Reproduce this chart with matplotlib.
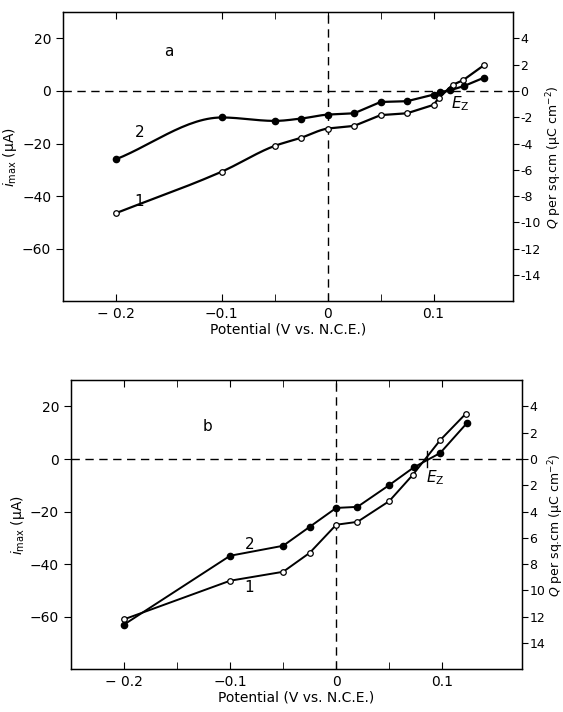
import numpy as np
import matplotlib.pyplot as plt
from matplotlib.ticker import FixedLocator

plt.rcParams['font.family'] = ['DejaVu Sans']
plt.rcParams['mathtext.fontset'] = 'dejavusans'
plt.rcParams['font.size'] = 10

# panel a
xa_1 = [-0.2, -0.1, -0.05, -0.025, 0.0, 0.025, 0.05, 0.075, 0.1, 0.105, 0.118, 0.128, 0.148]
ya_1 = [-46.5, -30.7, -20.9, -17.8, -14.3, -13.3, -9.2, -8.5, -5.3, -2.7, 2.3, 4.1, 9.9]
xa_2 = [-0.2, -0.1, -0.05, -0.025, 0.0, 0.025, 0.05, 0.075, 0.1, 0.106, 0.116, 0.129, 0.148]
ya_2 = [-26.0, -10.1, -11.4, -10.5, -9.0, -8.5, -4.2, -3.9, -1.4, -0.5, 0.3, 1.9, 5.1]

# panel b
xb_1 = [-0.2, -0.1, -0.05, -0.025, 0.0, 0.02, 0.05, 0.072, 0.098, 0.122]
yb_1 = [-61.0, -46.3, -42.9, -35.7, -25.0, -23.9, -16.0, -6.1, 7.2, 17.2]
xb_2 = [-0.2, -0.1, -0.05, -0.025, 0.0, 0.02, 0.05, 0.073, 0.098, 0.123]
yb_2 = [-63.0, -36.8, -33.0, -25.8, -18.6, -18.2, -9.9, -3.2, 2.3, 13.6]
ez_b = 0.086

left_ticks = [20, 0, -20, -40, -60]
q_ticks = [4, 2, 0, -2, -4, -6, -8, -10, -12, -14]
x_major = [-0.2, -0.1, 0.0, 0.1]
x_labels = ['\u2212 0.2', '\u22120.1', '0', '0.1']


def smooth(x, y, n_smooth, steps=30):
    # monotone cubic hermite for the first n_smooth segments, straight after
    x = np.asarray(x, float)
    y = np.asarray(y, float)
    h = np.diff(x)
    d = np.diff(y) / h
    m = np.zeros_like(y)
    m[0], m[-1] = d[0], d[-1]
    for i in range(1, len(x) - 1):
        if d[i - 1] * d[i] > 0:
            w1 = 2 * h[i] + h[i - 1]
            w2 = h[i] + 2 * h[i - 1]
            m[i] = (w1 + w2) / (w1 / d[i - 1] + w2 / d[i])
    px, py = [], []
    for i in range(len(x) - 1):
        if i < n_smooth:
            t = np.linspace(0, 1, steps)
            h00 = 2 * t ** 3 - 3 * t ** 2 + 1
            h10 = t ** 3 - 2 * t ** 2 + t
            h01 = -2 * t ** 3 + 3 * t ** 2
            h11 = t ** 3 - t ** 2
            px.extend(x[i] + t * h[i])
            py.extend(h00 * y[i] + h10 * h[i] * m[i] + h01 * y[i + 1] + h11 * h[i] * m[i + 1])
        else:
            px.extend([x[i], x[i + 1]])
            py.extend([y[i], y[i + 1]])
    return px, py


def setup(ax, minor, q_labels, label_x):
    ax.set_xlim(-0.25, 0.175)
    ax.set_ylim(-80, 30)
    ax.axhline(0, color='black', lw=1, ls=(0, (6, 4)))
    ax.axvline(0, color='black', lw=1, ls=(0, (6, 4)))
    ax.set_xticks(x_major)
    ax.set_xticklabels(x_labels)
    ax.xaxis.set_minor_locator(FixedLocator(minor))
    ax.tick_params(axis='x', which='both', direction='in', top=True, length=5, pad=4)
    ax.set_yticks(left_ticks)
    ax.set_yticklabels([str(v).replace('-', '\u2212') for v in left_ticks])
    ax.tick_params(axis='y', direction='out', length=5)
    ax.set_xlabel('Potential (V vs. N.C.E.)', labelpad=1)
    ax.set_ylabel(r'$i_{\rm max}$ (μA)', labelpad=2)
    for s in ax.spines.values():
        s.set_linewidth(1)
    ax2 = ax.twinx()
    ax2.set_ylim(-16, 6)
    ax2.set_yticks(q_ticks)
    ax2.set_yticklabels(q_labels)
    ax2.tick_params(axis='y', direction='out', length=4.5, pad=1, labelsize=9)
    ax2.set_ylabel(r'$Q$ per sq.cm (μC cm$^{-2}$)', rotation=90, fontsize=9)
    ax2.yaxis.set_label_coords(label_x, 0.5)
    return ax2


fig = plt.figure(figsize=(5.63, 7.12), dpi=100)
ax_a = fig.add_axes([0.112, 0.577, 0.799, 0.406])
ax_b = fig.add_axes([0.126, 0.060, 0.801, 0.406])

# panel a
setup(ax_a, [-0.05, 0.05], [str(v) for v in q_ticks], 1.069)
sx, sy = smooth(xa_1, ya_1, 4)
ax_a.plot(sx, sy, color='black', lw=1.6)
ax_a.plot(xa_1, ya_1, 'o', ms=4, mfc='white', mec='black', mew=0.9)
sx, sy = smooth(xa_2, ya_2, 4)
ax_a.plot(sx, sy, color='black', lw=1.6)
ax_a.plot(xa_2, ya_2, 'o', ms=4.5, color='black')
ax_a.text(-0.15, 15, 'a', ha='center', va='center', fontsize=11)
ax_a.text(-0.178, -16, '2', ha='center', va='center', fontsize=11)
ax_a.text(-0.178, -42, '1', ha='center', va='center', fontsize=11)
ax_a.text(0.125, -5, r'$E_{\rm Z}$', ha='center', va='center', fontsize=11)

# panel b
setup(ax_b, [-0.15, -0.05, 0.05], [str(abs(v)) for v in q_ticks], 1.054)
ax_b.plot(xb_1, yb_1, color='black', lw=1.4, marker='o', ms=4, mfc='white', mec='black', mew=0.9)
ax_b.plot(xb_2, yb_2, color='black', lw=1.4, marker='o', ms=4.5)
ax_b.plot([ez_b, ez_b], [-3, 3], color='black', lw=1)
ax_b.text(-0.121, 12.5, 'b', ha='center', va='center', fontsize=11)
ax_b.text(-0.082, -32.5, '2', ha='center', va='center', fontsize=11)
ax_b.text(-0.082, -49, '1', ha='center', va='center', fontsize=11)
ax_b.text(0.093, -7, r'$E_{\rm Z}$', ha='center', va='center', fontsize=11)

fig.savefig('out.png', dpi=100)
